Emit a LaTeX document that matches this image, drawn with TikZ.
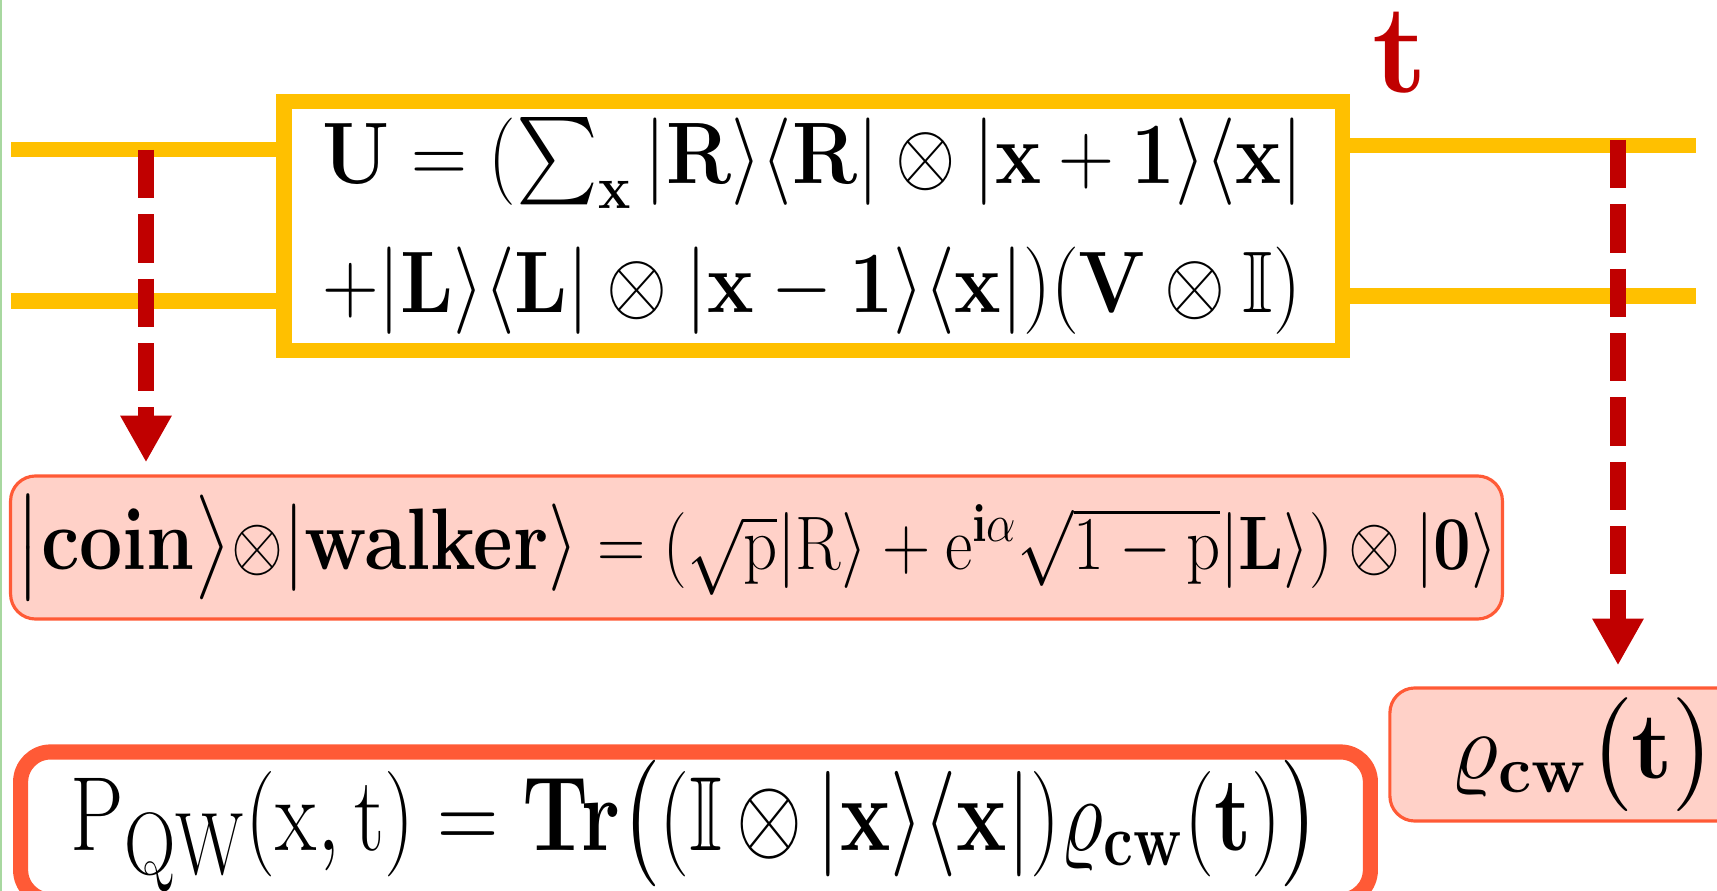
\RequirePackage{fix-cm}
\documentclass[tikz,border=0pt]{standalone}
\usepackage{amsmath,amssymb}
\usetikzlibrary{arrows.meta}

\definecolor{ouro}{HTML}{FFC000}
\definecolor{vermelho}{HTML}{C00000}
\definecolor{rosa}{HTML}{FFD1C8}
\definecolor{laranja}{HTML}{FF5A36}
\definecolor{verdinho}{HTML}{A8D8A0}

\begin{document}
\begin{tikzpicture}[
        x=0.01cm, y={(0cm,-0.01cm)},
        fio/.style={line width=4.5pt, ouro},
        porta/.style={draw=ouro, line width=4.3pt, fill=white, inner sep=0pt,
            align=left, font=\fontsize{23}{36.7}\selectfont},
        medida/.style={line width=4.5pt, vermelho, dash pattern=on 13.7pt off 4.6pt,
            -{Triangle[width=13.7pt, length=13.3pt]}},
        estado/.style={draw=laranja, fill=rosa, line width=0.9pt, rounded corners=0.25cm, inner sep=0pt},
        prob/.style={draw=laranja, line width=4.3pt, rounded corners=0.3cm, inner sep=0pt}
    ]
        \useasboundingbox (0,0) rectangle (1717,891);
        \draw[verdinho, line width=0.6pt] (0.5,0) -- (0.5,891);

        % Porta U - evolucao
        \node[porta, minimum width=10.575cm, minimum height=2.495cm] (U) at (813,226)
            {\scalebox{0.96}[1.08]{$\mathbf{U} = (\sum_{\mathbf{x}} |\mathbf{R}\rangle\langle\mathbf{R}| \otimes |\mathbf{x}+\mathbf{1}\rangle\langle\mathbf{x}|$}\\
             \scalebox{0.97}[1.08]{$+|\mathbf{L}\rangle\langle\mathbf{L}| \otimes |\mathbf{x}-\mathbf{1}\rangle\langle\mathbf{x}|)(\mathbf{V}\otimes\mathbb{I})$}};
        \node[vermelho, inner sep=0pt, font=\fontsize{36}{40}\selectfont] (tempo) at (1400,52) {$\mathbf{t}$};

        % Fios de entrada e saida
        \coordinate (e1) at (11,149.5);
        \coordinate (e2) at (11,301);
        \coordinate (s1) at (1696,145.5);
        \coordinate (s2) at (1696,296);
        \draw[fio] (e1) -- (e1 -| U.west);
        \draw[fio] (e2) -- (e2 -| U.west);
        \draw[fio] (s1 -| U.east) -- (s1);
        \draw[fio] (s2 -| U.east) -- (s2);

        % Estado inicial
        \node[estado, minimum width=14.91cm, minimum height=1.43cm, font=\fontsize{21.6}{26}\selectfont] (ini) at (756.5,547.5)
            {\scalebox{0.88}[1]{$\scalebox{1.15}{$\bigl|\mathbf{coin}\bigr\rangle$}{\otimes}\scalebox{1.15}{$|\mathbf{walker}\rangle$} = (\sqrt{\mathrm{p}}|\mathrm{R}\rangle + \mathrm{e}^{\mathbf{i}\alpha}\sqrt{1-\mathrm{p}}|\mathbf{L}\rangle)\otimes|\mathbf{0}\rangle$}};

        % Matriz densidade
        \node[estado, minimum width=3.87cm, minimum height=1.33cm, font=\fontsize{27}{30}\selectfont] (rho) at (1583.5,754.5)
            {$\varrho_{\mathbf{cw}}\big(\mathbf{t}\big)$};

        % Probabilidade
        \node[prob, minimum width=13.49cm, minimum height=1.48cm, font=\fontsize{30}{34}\selectfont] (pqw) at (695.5,826)
            {\scalebox{0.805}[1]{$\mathrm{P}_{\scalebox{1.2}{$\scriptstyle\mathrm{QW}$}}(\mathrm{x},\mathrm{t}) = \mathbf{Tr}\bigl((\mathbb{I}\,{\otimes}\,|\mathbf{x}\rangle\langle\mathbf{x}|)\varrho_{\mathbf{cw}}(\mathbf{t})\bigr)$}};

        % Medidas (setas tracejadas)
        \coordinate (m1) at (146,150);
        \coordinate (m2) at (1618,140);
        \draw[medida, shorten >=0.12cm] (m1) -- (m1 |- ini.north);
        \draw[medida, shorten >=0.21cm] (m2) -- (m2 |- rho.north);

    \end{tikzpicture}
\end{document}
